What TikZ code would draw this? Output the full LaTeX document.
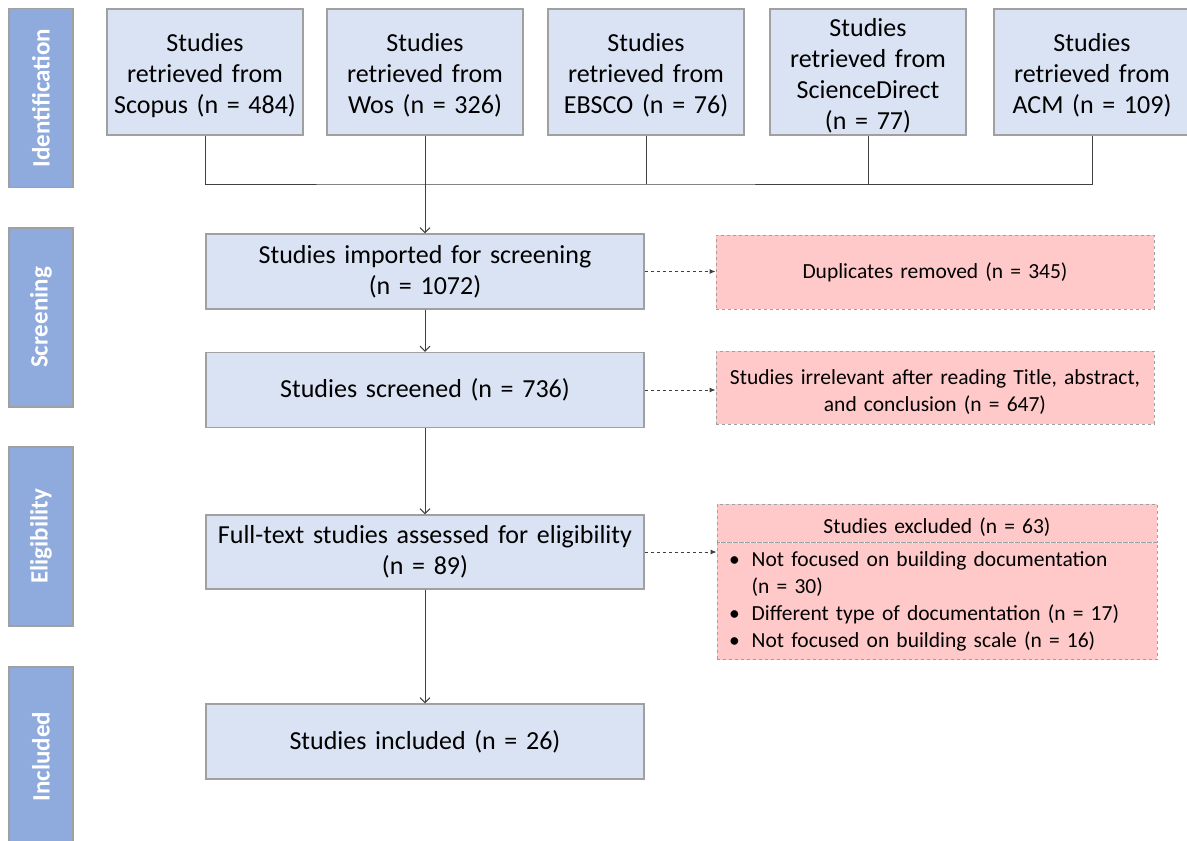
\documentclass[tikz,border=0pt]{standalone}
\usepackage{fontspec}
\setmainfont{Carlito}
\usetikzlibrary{arrows.meta, positioning}

\definecolor{phaseblue}{HTML}{8FAADC}
\definecolor{boxblue}{HTML}{DAE3F3}
\definecolor{boxpink}{HTML}{FFC9C9}
\definecolor{edgegray}{HTML}{A0A0A0}
\definecolor{linegray}{HTML}{404040}

\begin{document}
\begin{tikzpicture}[x=1pt, y=-1pt,
    lowered/.style={execute at begin node={\rule{0pt}{#1}}},
    phase/.style={draw=edgegray, line width=1.2pt, fill=phaseblue, minimum width=179pt, minimum height=64pt,
        inner sep=0pt, rotate=90, text=white, font=\fontsize{25}{28}\selectfont\bfseries},
    srcbox/.style={draw=edgegray, line width=1.2pt, fill=boxblue, minimum width=196pt, minimum height=126pt,
        text width=186pt, align=center, inner sep=0pt, font=\fontsize{26}{31}\selectfont, lowered=25pt},
    stagebox/.style={draw=edgegray, line width=1.2pt, fill=boxblue, minimum width=438pt, minimum height=75pt,
        text width=430pt, align=center, inner sep=0pt, font=\fontsize{26}{31}\selectfont},
    dropbox/.style={draw=edgegray, dashed, line width=0.9pt, fill=boxpink, minimum width=438pt,
        text width=430pt, align=center, inner sep=0pt, font=\fontsize{21.5}{27}\selectfont},
    flow/.style={draw=linegray, line width=1pt, -{Straight Barb[length=5pt, width=10pt]}},
    drop/.style={draw=linegray, dashed, line width=0.9pt, -{Latex[length=6pt, width=5pt]}}]

    \clip (0,0) rectangle (1187,841);

    % phases
    \node[phase] (ident) at (41,98) {Identification};
    \node[phase] (screen) at (41,317.5) {Screening};
    \node[phase] (elig) at (41,536.5) {Eligibility};
    \node[phase] (incl) at (41,756.5) {Included};

    % sources
    \node[srcbox] (scopus) at (205,72) {Studies\\retrieved from\\Scopus (n = 484)};
    \node[srcbox] (wos) at (425,72) {Studies\\retrieved from\\Wos (n = 326)};
    \node[srcbox] (ebsco) at (646,72) {Studies\\retrieved from\\EBSCO (n = 76)};
    \node[srcbox] (scidir) at (868,72) {Studies\\retrieved from\\ScienceDirect\\(n = 77)};
    \node[srcbox] (acm) at (1092,72) {Studies\\retrieved from\\ACM (n = 109)};

    % stages
    \node[stagebox] (imported) at (425,271.5) {Studies imported for screening\\(n = 1072)};
    \node[stagebox] (screened) at (425,390) {Studies screened (n = 736)};
    \node[stagebox, minimum height=74pt] (fulltext) at (425,552) {Full-text studies assessed for eligibility\\(n = 89)};
    \node[stagebox] (included) at (425,741.5) {Studies included (n = 26)};

    % removed records
    \node[dropbox, minimum height=74pt] (dupl) at (935,272) {Duplicates removed (n = 345)};
    \node[dropbox, minimum height=73pt, lowered=23pt] (irrel) at (935,387.5) {Studies irrelevant after reading Title, abstract,\\and conclusion (n = 647)};
    \node[dropbox, minimum width=440pt, minimum height=38pt, lowered=24pt] (exclhead) at (937,523) {Studies excluded (n = 63)};
    \node[dropbox, minimum width=440pt, minimum height=117pt, align=left, anchor=north] (excllist) at (exclhead.south)
        {\begin{tabular}{@{\hspace{7pt}}l@{\hspace{12pt}}l@{}}
         \textbullet & Not focused on building documentation\\
                     & (n = 30)\\
         \textbullet & Different type of documentation (n = 17)\\
         \textbullet & Not focused on building scale (n = 16)
         \end{tabular}};

    % merge of the sources
    \coordinate (merge) at (425,184);
    \draw[draw=linegray, line width=1pt] (scopus.south) |- (merge) -| (acm.south);
    \foreach \src in {wos, ebsco, scidir}
        \draw[draw=linegray, line width=1pt] (\src.south) -- (\src.south |- merge);
    \draw[flow] (merge) -- (imported.north);
    \draw[flow] (imported) -- (screened);
    \draw[flow] (screened) -- (fulltext);
    \draw[flow] (fulltext) -- (included);

    \draw[drop] (imported.east) -- (imported.east -| dupl.west);
    \draw[drop] (screened.east) -- (screened.east -| irrel.west);
    \draw[drop] (fulltext.east) -- (fulltext.east -| excllist.west);
\end{tikzpicture}
\end{document}
